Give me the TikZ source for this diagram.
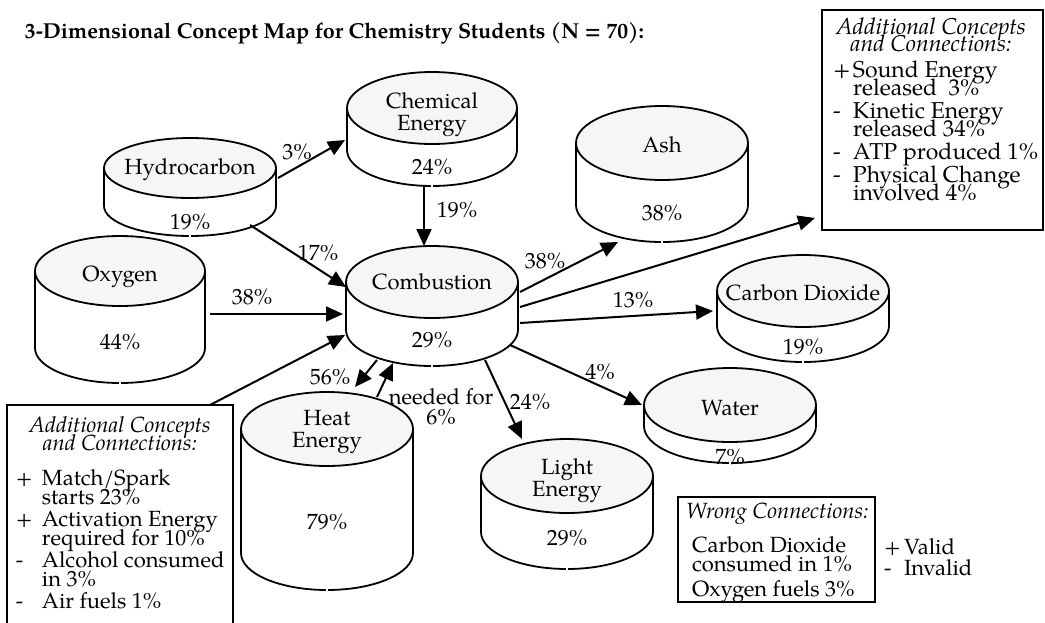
\documentclass[tikz,border=0pt]{standalone}
\usepackage{fontspec}
\setmainfont{TeX Gyre Pagella}
\usetikzlibrary{arrows.meta,shapes.geometric}

\definecolor{capfill}{RGB}{246,246,246}
\newcommand\tightlines{\lineskiplimit=-50pt\relax}

\tikzset{
  x=0.5pt, y=-0.5pt,
  every node/.style={inner sep=0pt, outer sep=0pt},
  txt/.style={font={\fontsize{11}{11}\selectfont\tightlines}, align=center},
  boxtxt/.style={font={\fontsize{11}{9.5}\selectfont\tightlines}, align=left},
  boxbig/.style={font={\fontsize{11.5}{9}\selectfont\tightlines}, align=left},
  headtxt/.style={font={\fontsize{11}{9}\selectfont\itshape\tightlines}, align=center},
  headbig/.style={font={\fontsize{11.5}{8.5}\selectfont\itshape\tightlines}, align=center},
  drumtop/.style={ellipse, draw, fill=capfill, line width=0.9pt},
  drumline/.style={line width=0.9pt},
  panel/.style={draw, line width=0.8pt},
  conn/.style={line width=1pt, -{Triangle[length=8.5pt,width=7.5pt]}},
}

% a drum: name, centre x, centre y of the lid, x radius, y radius, side length
\newcommand\drum[6]{%
  \node[drumtop, minimum width=#4pt, minimum height=#5pt] (#1) at (#2,#3) {};
  \node[minimum width=#4pt, minimum height=(#5+#6)*0.5pt, anchor=north] (#1b) at (#2,#3) {};
  \draw[drumline] (#1.west) -- ++(0,#6)
    arc[start angle=180, end angle=269.3, x radius=#4*0.5pt, y radius=#5*0.5pt];
  \draw[drumline] (#1.east) -- ++(0,#6)
    arc[start angle=0, end angle=-89.3, x radius=#4*0.5pt, y radius=#5*0.5pt];
}
\newcommand\mkr[2]{\makebox[#1][l]{#2}}

\begin{document}
\begin{tikzpicture}
\useasboundingbox (0,0) rectangle (1045,622);

% title
\node[anchor=base west, font=\fontsize{10.8}{13}\selectfont\bfseries] (title) at (25,38)
  {3-Dimensional Concept Map for Chemistry Students (N = 70):};

% concept drums
\drum{hyd}{190}{168}{86}{30}{38}
\drum{chem}{432}{108}{85}{36}{42}
\drum{ash}{662}{143}{86}{37}{62}
\drum{oxy}{120}{271}{85}{35}{77}
\drum{comb}{432}{282}{86}{36}{48}
\drum{co2}{803}{291}{86}{36}{35}
\drum{wat}{730}{405}{86}{37}{21}
\drum{heat}{327}{429}{86}{37}{124}
\drum{light}{567}{476}{86}{37}{56}

% drum texts
\node[txt] (hydt) at (190,170) {Hydrocarbon};
\node[txt] (hydp) at (190,222) {19\%};
\node[txt] (chemt) at (432,115) {Chemical\\Energy};
\node[txt] (chemp) at (432,167) {24\%};
\node[txt] (asht) at (662,145) {Ash};
\node[txt] (ashp) at (662,213) {38\%};
\node[txt] (oxyt) at (120,277) {Oxygen};
\node[txt] (oxyp) at (120,342) {44\%};
\node[txt] (combt) at (432,282) {Combustion};
\node[txt] (combp) at (432,340) {29\%};
\node[txt] (co2t) at (803,293) {Carbon Dioxide};
\node[txt] (co2p) at (803,347) {19\%};
\node[txt] (watt) at (730,408) {Water};
\node[txt] (watp) at (730,457) {7\%};
\node[txt] (heatt) at (327,432) {Heat\\Energy};
\node[txt] (heatp) at (327,522) {79\%};
\node[txt] (lightt) at (567,481) {Light\\Energy};
\node[txt] (lightp) at (567,538) {29\%};

% boxes of additional and wrong connections
\node[panel, minimum width=110.5pt, minimum height=110pt, anchor=north west] (box2) at (822,10) {};
\node[panel, minimum width=113pt, minimum height=120pt, anchor=north west] (box1) at (7,405) {};
\node[panel, minimum width=98.5pt, minimum height=52.5pt, anchor=north west] (box3) at (678,497) {};

\node[headbig, anchor=north] (box2h) at (931,18)
  {Additional Concepts\\and Connections:};
\node[boxbig, anchor=north west] (box2l) at (833,61)
  {\mkr{10pt}{+}Sound Energy\\\hspace*{10pt}released\ \ 3\%\\[2.5pt]%
   \mkr{10pt}{-}Kinetic Energy\\\hspace*{10pt}released 34\%\\[2.5pt]%
   \mkr{10pt}{-}ATP produced 1\%\\[2.5pt]%
   \mkr{10pt}{-}Physical Change\\\hspace*{10pt}involved 4\%};

\node[headtxt, anchor=north] (box1h) at (120,416)
  {Additional Concepts\\and Connections:};
\node[boxtxt, anchor=north west] (box1l) at (16,470)
  {\mkr{13pt}{+}Match/Spark\\\hspace*{13pt}starts 23\%\\[1.5pt]%
   \mkr{13pt}{+}Activation Energy\\\hspace*{13pt}required for 10\%\\[1.5pt]%
   \mkr{13pt}{-}Alcohol consumed\\\hspace*{13pt}in 3\%\\[1.5pt]%
   \mkr{13pt}{-}Air fuels 1\%};

\node[headtxt, anchor=north west] (box3h) at (686,503) {Wrong Connections:};
\node[boxtxt, anchor=north west] (box3l) at (692,537)
  {Carbon Dioxide\\consumed in 1\%\\[3pt]Oxygen fuels 3\%};
\node[boxtxt, anchor=north west] (legend) at (884,539)
  {\mkr{10pt}{+}Valid\\[1pt]\mkr{10pt}{-}Invalid};

% connections
\draw[conn] ([shift={(1pt,-5pt)}]hyd.east) -- ([shift={(-1pt,3.5pt)}]chemb.west);
\draw[conn] ([xshift=-4pt]chemb.south) -- ([xshift=-4pt]comb.north);
\draw[conn] ([shift={(-13pt,5.5pt)}]hydb.south east) -- ([yshift=-2.5pt]comb.west);
\draw[conn] ([shift={(2.5pt,-21.5pt)}]oxyb.north east) -- ([shift={(-1.5pt,-16pt)}]combb.north west);
\draw[conn] ([xshift=-11.5pt]box1.north east) -- ([shift={(-0.5pt,-26.5pt)}]combb.north west);
\draw[conn] ([shift={(-27.5pt,3pt)}]combb.south) -- ([shift={(14pt,2.5pt)}]heat.north);
\draw[conn] ([shift={(25pt,-2.5pt)}]heat.north) -- ([shift={(-19.5pt,1.5pt)}]combb.south);
\draw[conn] ([shift={(26.5pt,3pt)}]combb.south) -- ([xshift=-22.5pt]light.north);
\draw[conn] ([shift={(-4pt,-10.5pt)}]combb.east) -- ([xshift=-1pt]wat.west);
\draw[conn] ([shift={(1pt,0.5pt)}]combb.east) -- ([shift={(-2pt,-10pt)}]co2.west);
\draw[conn] ([shift={(1pt,8.5pt)}]combb.east) -- ([shift={(-3.5pt,6pt)}]box2.south west);
\draw[conn] ([shift={(1pt,-5pt)}]combb.north east) -- ([xshift=-22pt]ashb.south);

% connection labels
\node[txt] (l3) at (297,152) {3\%};
\node[txt] (l19) at (457,210) {19\%};
\node[txt] (l17) at (318,253) {17\%};
\node[txt] (l38a) at (252,297) {38\%};
\node[txt] (l56) at (330,377) {56\%};
\node[txt, font={\fontsize{11}{10}\selectfont\tightlines}] (lneed) at (441,407) {needed for\\6\%};
\node[txt] (l24) at (530,402) {24\%};
\node[txt] (l4) at (600,372) {4\%};
\node[txt] (l13) at (633,300) {13\%};
\node[txt] (l38b) at (545,261) {38\%};
\end{tikzpicture}
\end{document}
